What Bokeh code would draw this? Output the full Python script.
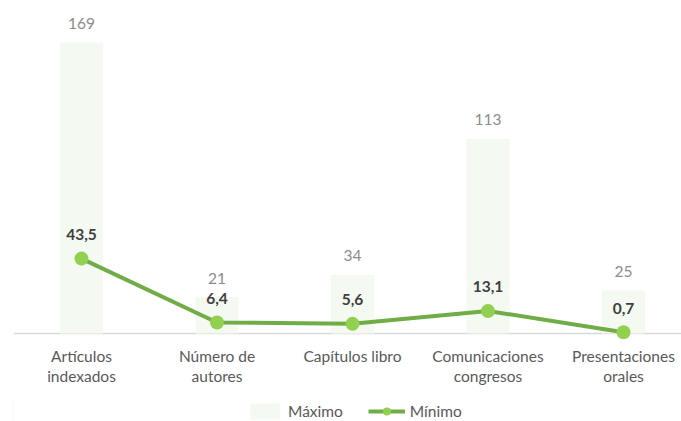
from bokeh.plotting import figure
from bokeh.layouts import column
from bokeh.models import ColumnDataSource, FixedTicker, Legend, LegendItem, Range1d, Span
from bokeh.core.properties import value
from bokeh.embed import file_html
from bokeh.resources import INLINE

categories = ["Artículos\nindexados", "Número de\nautores", "Capítulos libro",
              "Comunicaciones\ncongresos", "Presentaciones\norales"]
maximo = [169, 21, 34, 113, 25]
minimo = [43.5, 6.4, 5.6, 13.1, 0.7]
series_names = ["Máximo", "Mínimo"]

FONT = "Lato"
FS = "15.5px"
BAR_COLOR = "#F4F9F1"
LINE_COLOR = "#70AD47"
MARKER_COLOR = "#92D050"

xs = list(range(len(categories)))
src = ColumnDataSource(dict(
    x=xs, maximo=maximo, minimo=minimo,
    max_lbl=[str(v) for v in maximo],
    min_lbl=[f"{v:.1f}".replace(".", ",") for v in minimo],
))

p = figure(width=681, height=399, output_backend="svg", toolbar_location=None,
           x_range=Range1d(-0.5018, 4.428), y_range=Range1d(-5.81, 193.4),
           min_border_left=13, min_border_right=0, min_border_top=0, min_border_bottom=56)
p.outline_line_color = None
p.xgrid.visible = False
p.ygrid.visible = False
p.yaxis.visible = False

p.vbar(x="x", top="maximo", width=0.317, source=src,
       fill_color=BAR_COLOR, line_color=None)
p.add_layout(Span(location=0, dimension="width", line_color="#D9D9D9",
                  line_width=1.5, level="underlay"))
p.line(x="x", y="minimo", source=src, line_color=LINE_COLOR, line_width=4)
p.scatter(x="x", y="minimo", source=src, size=14,
          fill_color=MARKER_COLOR, line_color=None)

p.text(x="x", y="maximo", text="max_lbl", source=src, text_align="center",
       text_baseline="middle", y_offset=-19, text_font=value(FONT),
       text_font_size=FS, text_color="#8C8C8C")
p.text(x="x", y="minimo", text="min_lbl", source=src, text_align="center",
       text_baseline="middle", y_offset=-24, text_font=value(FONT),
       text_font_size=FS, text_font_style="bold", text_color="#404040")

ax = p.xaxis[0]
ax.ticker = FixedTicker(ticks=xs)
ax.major_label_overrides = {i: c for i, c in zip(xs, categories)}
ax.major_tick_line_color = None
ax.minor_tick_line_color = None
ax.axis_line_color = None
ax.major_label_text_font = FONT
ax.major_label_text_font_size = FS
ax.major_label_text_color = "#595959"
ax.major_label_text_line_height = 1.15
ax.major_label_standoff = -3

# legend strip (its renderers reuse the data but sit outside its visible range)
lg = figure(width=681, height=22, output_backend="svg", toolbar_location=None,
            x_range=Range1d(100, 101), y_range=Range1d(0, 1),
            min_border_left=0, min_border_right=0, min_border_top=0, min_border_bottom=0)
lg.outline_line_color = None
lg.xgrid.visible = False
lg.ygrid.visible = False
lg.xaxis.visible = False
lg.yaxis.visible = False
lb = lg.vbar(x="x", top="maximo", width=0.317, source=src,
             fill_color=BAR_COLOR, line_color=None)
ll = lg.line(x="x", y="minimo", source=src, line_color=LINE_COLOR, line_width=4)
lp = lg.scatter(x="x", y="minimo", source=src, size=14,
                fill_color=MARKER_COLOR, line_color=None)

legend = Legend(items=[LegendItem(label=series_names[0], renderers=[lb]),
                       LegendItem(label=series_names[1], renderers=[ll, lp])],
                orientation="horizontal", location=(233, 0),
                label_text_font=FONT, label_text_font_size=FS,
                label_text_color="#595959", border_line_color=None,
                background_fill_alpha=0, glyph_width=37, glyph_height=20,
                label_standoff=5, spacing=25, padding=0, margin=0)
lg.add_layout(legend, "center")

layout = column(p, lg, spacing=0)
open("out.html", "w").write(file_html(layout, INLINE))
